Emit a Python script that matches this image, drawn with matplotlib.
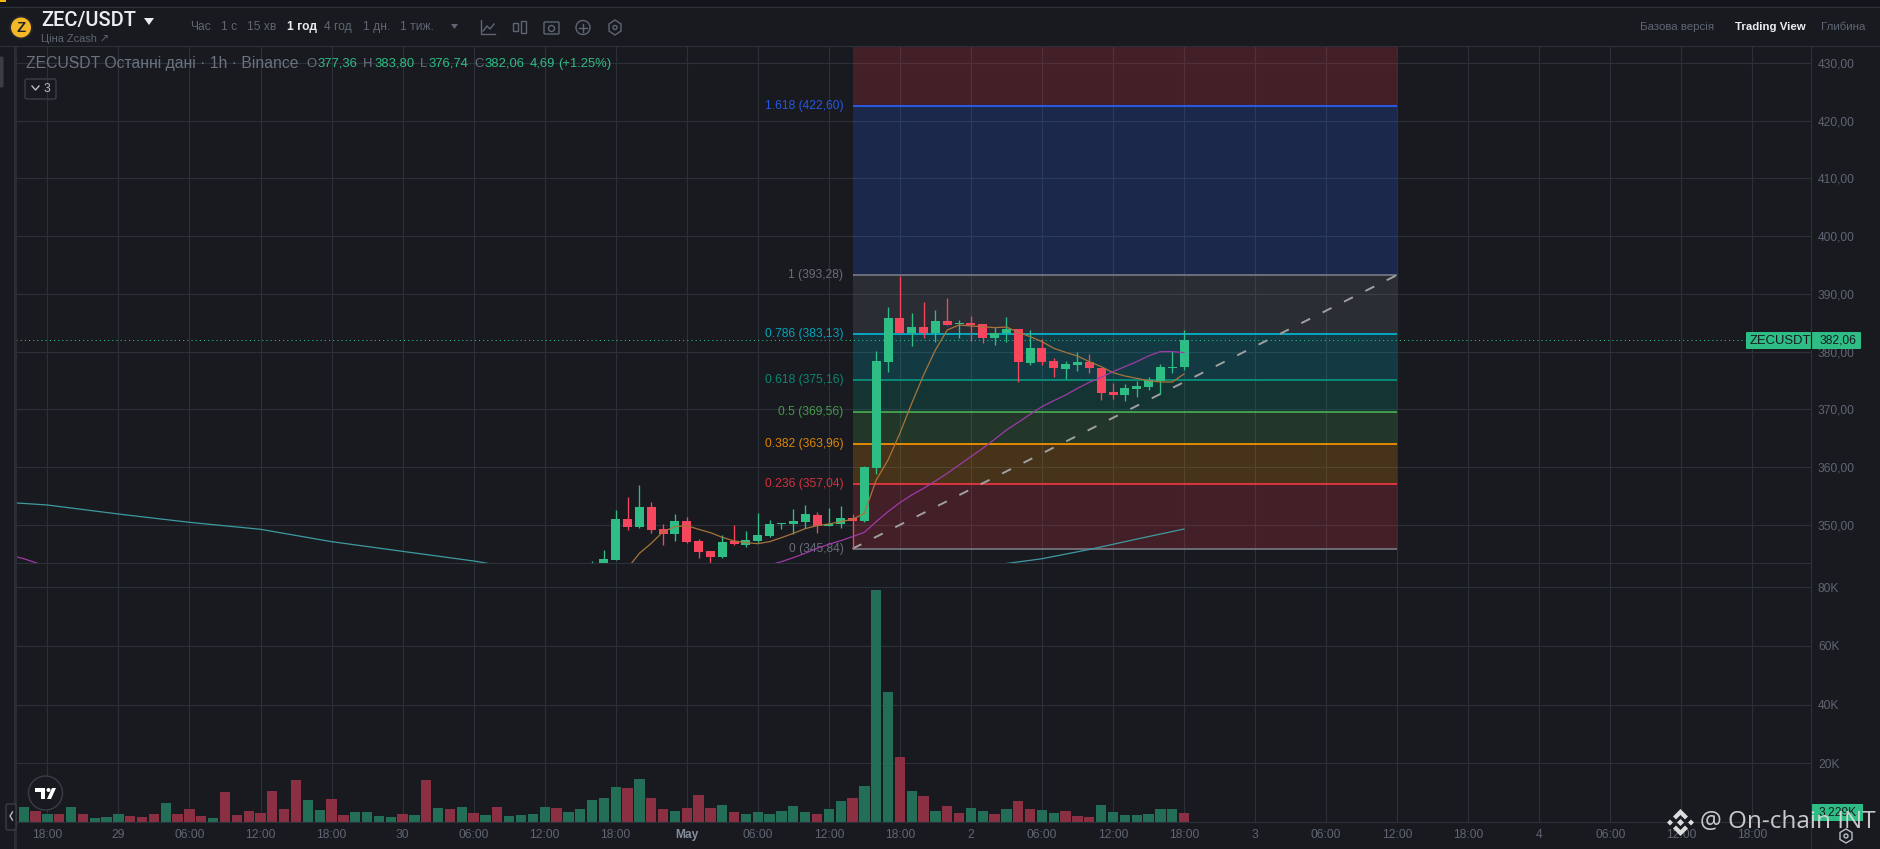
import matplotlib
matplotlib.use('Agg')
import matplotlib.pyplot as plt
from matplotlib.patches import Circle, FancyBboxPatch, Polygon, Rectangle

plt.rcParams['font.family'] = ['Liberation Sans', 'DejaVu Sans']

W, H = 1881, 849

# hours counted from 28 Apr 18:00
candle_start = 46
opens = [343.2, 343.0, 343.9, 350.99, 349.66, 353.07, 349.25, 348.45, 350.64, 347.18, 345.44, 344.46, 347.18,
         346.54, 347.23, 348.10, 350.12, 350.12, 350.47, 351.68, 349.83, 350.12, 351.16, 350.64, 359.88, 378.20,
         385.82, 383.22, 384.26, 383.22, 385.30, 384.78, 384.96, 384.78, 382.36, 383.22, 383.92, 378.02, 380.62,
         378.37, 376.98, 377.68, 378.20, 377.16, 373.00, 372.48, 373.52, 373.87, 374.90, 377.21, 377.36]
highs = [343.7, 345.6, 352.55, 354.74, 356.88, 353.93, 350.12, 351.85, 351.33, 347.52, 345.44, 348.22, 349.95,
         348.91, 352.03, 350.81, 350.35, 352.72, 353.41, 352.20, 352.89, 353.24, 351.85, 360.17, 380.11, 387.73,
         393.10, 386.69, 388.60, 387.21, 389.29, 385.48, 386.17, 384.78, 384.26, 386.00, 383.92, 383.74, 382.18,
         378.89, 378.37, 379.93, 379.58, 377.16, 374.56, 374.38, 374.90, 375.60, 377.85, 380.11, 383.80]
lows = [343.0, 342.6, 343.9, 349.08, 349.49, 348.62, 346.54, 347.23, 346.89, 344.29, 343.42, 344.29, 346.54,
        346.19, 346.77, 347.93, 349.31, 348.45, 349.49, 348.62, 349.77, 349.49, 345.85, 350.47, 358.84, 376.46,
        383.17, 380.97, 382.36, 381.66, 384.61, 382.36, 381.84, 381.49, 381.14, 381.66, 374.73, 377.68, 377.68,
        375.60, 375.25, 376.64, 376.29, 371.61, 371.78, 371.44, 372.13, 373.34, 372.65, 376.29, 376.74]
closes = [343.3, 344.05, 350.99, 349.66, 353.07, 349.14, 348.45, 350.64, 347.06, 345.33, 344.46, 347.00, 346.71,
          347.35, 348.22, 350.12, 350.30, 350.64, 351.85, 349.83, 350.12, 351.16, 350.70, 360.06, 378.37, 385.82,
          383.22, 384.26, 383.22, 385.30, 384.61, 384.96, 384.61, 382.36, 383.22, 383.92, 378.20, 380.62, 378.20,
          377.16, 377.85, 378.20, 377.16, 372.82, 372.48, 373.69, 374.04, 375.08, 377.33, 377.33, 382.06]

vol_start = -2
volumes = [5.11, 3.75, 2.72, 2.72, 5.11, 2.72, 1.36, 1.70, 2.72, 2.04, 1.70, 2.72, 6.47, 2.72, 4.43, 2.04, 1.36,
           10.2, 2.38, 3.75, 3.06, 10.56, 4.43, 14.3, 7.49, 4.09, 7.83, 2.38, 3.41, 3.41, 2.04, 1.70, 2.72, 2.38,
           14.3, 4.77, 4.43, 5.11, 3.06, 2.38, 5.11, 2.04, 2.38, 2.72, 5.11, 4.77, 3.41, 4.43, 7.49, 8.17, 11.92,
           11.58, 14.64, 8.17, 4.43, 3.75, 4.77, 9.19, 4.77, 5.79, 3.41, 2.72, 3.41, 2.72, 3.75, 5.45, 3.41, 2.72,
           4.43, 7.15, 8.17, 12.26, 79, 44.1, 22.13, 10.56, 8.85, 3.75, 5.45, 3.06, 4.77, 3.75, 2.72, 4.43, 7.15,
           4.43, 4.09, 3.06, 3.75, 2.04, 1.70, 5.79, 3.41, 2.38, 2.38, 2.72, 4.43, 4.43, 3.23]
vol_dirs = 'GRGRGRGGGRRRGRRRGRRRRRRRGGRRGGGGRGRGRGRGRGGGGRGGGGGRGRRGRRRGRGGGGGGRGGRGGGRGRGRRGGRGRRGGRRRGGGGGG'

orange_start = 49
ma_orange = [342.44, 345.04, 346.77, 348.79, 349.66, 349.83, 349.2, 348.62, 347.81, 347.18, 346.89, 346.71, 347.06,
             347.75, 348.5, 349.31, 349.83, 350.12, 350.52, 350.93, 351.97, 357.75, 361.21, 365.83, 371.03, 375.94,
             380.28, 383.74, 384.61, 384.44, 384.32, 384.15, 384.26, 383.34, 382.59, 381.72, 380.57, 379.87, 379.23,
             378.25, 377.39, 376.35, 375.77, 375.37, 374.96, 374.73, 374.73, 376.12]
purple_start = 61
ma_purple = [343.02, 343.59, 344.29, 345.04, 345.90, 346.60, 347.23, 347.93, 348.68, 350.53, 352.26, 353.82, 355.15,
             356.30, 357.57, 358.90, 360.35, 361.79, 363.24, 364.80, 366.41, 367.74, 369.13, 370.46, 371.50, 372.48,
             373.63, 374.67, 375.54, 376.52, 377.39, 378.25, 379.24, 379.99, 379.99, 379.82]
purple_left_x = [-3, -2, -1, 0]
purple_left = [344.63, 344.11, 343.42, 342.73]
teal_left_x = [-3, 0, 6, 12, 18, 24, 30, 36, 38]
teal_left = [353.82, 353.41, 351.85, 350.41, 349.2, 347.06, 345.38, 343.71, 343.02]
teal_right_x = [80, 84, 88, 92, 96]
teal_right = [343.0, 344.1, 345.7, 347.5, 349.25]

fib_labels = ['0', '0.236', '0.382', '0.5', '0.618', '0.786', '1', '1.618']
fib_prices = [345.84, 357.04, 363.96, 369.56, 375.16, 383.13, 393.28, 422.60]
fib_colors = ['#787b86', '#f23645', '#ff9800', '#4caf50', '#089981', '#00bcd4', '#787b86', '#2962ff']
fib_from, fib_to = 68, 114

time_pos = list(range(0, 145, 6))
time_labels = ['18:00', '29', '06:00', '12:00', '18:00', '30', '06:00', '12:00', '18:00', 'May', '06:00', '12:00',
               '18:00', '2', '06:00', '12:00', '18:00', '3', '06:00', '12:00', '18:00', '4', '06:00', '12:00', '18:00']
price_ticks = [350, 360, 370, 380, 390, 400, 410, 420, 430]
vol_ticks = [20, 40, 60, 80]
last_price = 382.06

BG = '#181a20'
GRID = '#2b3139'
DIM = '#5e6673'
UP = '#2ebd85'
DOWN = '#f6465d'
VOL_UP = '#236e56'
VOL_DOWN = '#8b3043'


def pane(top, bottom):
    left, right = 16, 1811
    return [left / W, 1 - bottom / H, (right - left) / W, (bottom - top) / H]


def px(size):
    return size * 0.72


fig = plt.figure(figsize=(W / 100, H / 100), dpi=100, facecolor=BG)
ax = fig.add_axes(pane(46, 563), facecolor=BG)
ax_gap = fig.add_axes(pane(563, 587), facecolor=BG, sharex=ax)
ax_vol = fig.add_axes(pane(587, 822), facecolor=BG, sharex=ax)

for a in (ax, ax_gap, ax_vol):
    a.set_axisbelow(True)
    a.set_xticks(time_pos)
    a.grid(True, color=GRID, lw=0.8)
    for s in a.spines.values():
        s.set_color(GRID)
        s.set_linewidth(0.8)
    a.spines['left'].set_visible(False)
ax.spines['top'].set_visible(False)

ax.set_xlim(-2.65, 148.95)
ax.set_ylim(343.36, 432.96)
ax_vol.set_ylim(0, 80)
ax_gap.set_yticks([])
ax_gap.tick_params(axis='x', length=0, labelbottom=False)
ax.tick_params(axis='x', length=0, labelbottom=False)

ax.yaxis.tick_right()
ax.set_yticks(price_ticks)
ax.set_yticklabels([f'{p:.2f}'.replace('.', ',') for p in price_ticks], va='center_baseline')
ax.tick_params(axis='y', length=0, pad=5, labelsize=px(12), labelcolor=DIM)

ax_vol.yaxis.tick_right()
ax_vol.set_yticks(vol_ticks)
ax_vol.set_yticklabels([f'{v}K' for v in vol_ticks], va='center_baseline')
ax_vol.tick_params(axis='y', length=0, pad=5, labelsize=px(12), labelcolor=DIM)
ax_vol.set_xticks(time_pos)
ax_vol.set_xticklabels(time_labels)
ax_vol.tick_params(axis='x', length=0, pad=5, labelsize=px(12), labelcolor=DIM)
for lab in ax_vol.get_xticklabels():
    if lab.get_text() == 'May':
        lab.set_fontweight('bold')
        lab.set_color('#848e9c')

# fib bands, each one takes the colour of its upper level
for i in range(len(fib_prices)):
    lo = fib_prices[i]
    if i == len(fib_prices) - 1:
        hi = ax.get_ylim()[1]
        col = '#f23645'
    else:
        hi = fib_prices[i + 1]
        col = fib_colors[i + 1]
    ax.fill_between([fib_from, fib_to], lo, hi, color=col, alpha=0.2, lw=0, zorder=1)
for name, p, col in zip(fib_labels, fib_prices, fib_colors):
    ax.plot([fib_from, fib_to], [p, p], color=col, lw=1.2, zorder=2, solid_capstyle='butt')
    ax.annotate(f"{name} ({p:.2f})".replace(f'{p:.2f}', f'{p:.2f}'.replace('.', ',')), (fib_from, p),
                xytext=(-6.5, 0), textcoords='offset points', ha='right', va='center',
                color=col, fontsize=px(12), alpha=0.85, zorder=2)

ax.plot([fib_from, fib_to], [fib_prices[0], fib_prices[6]], color='#a0a0a0', lw=1.4, dashes=(5.1, 7.2), zorder=2)

ax.plot(range(orange_start, orange_start + len(ma_orange)), ma_orange, color='#a8743a', lw=0.9, zorder=5)
ax.plot(range(purple_start, purple_start + len(ma_purple)), ma_purple, color='#a03aa8', lw=0.9, zorder=5)
ax.plot(purple_left_x, purple_left, color='#a03aa8', lw=0.9, zorder=5)
ax.plot(teal_left_x, teal_left, color='#3f9aa0', lw=0.9, zorder=5)
ax.plot(teal_right_x, teal_right, color='#3f9aa0', lw=0.9, zorder=5)

# candles
for n in range(len(opens)):
    x = candle_start + n
    col = UP if closes[n] >= opens[n] else DOWN
    ax.vlines(x, lows[n], highs[n], color=col, lw=0.95, zorder=3)
    ax.bar(x, abs(closes[n] - opens[n]), bottom=min(opens[n], closes[n]), width=0.76, color=col, lw=0, zorder=4)

ax.axhline(last_price, color=UP, lw=0.75, dashes=(1, 3), zorder=3)

# volume bars
vol_x = [vol_start + n for n in range(len(volumes))]
vol_cols = [VOL_UP if d == 'G' else VOL_DOWN for d in vol_dirs]
ax_vol.bar(vol_x, volumes, width=0.87, color=vol_cols, lw=0, zorder=2)

# page furniture, in screen pixels
ui = fig.add_axes([0, 0, 1, 1], facecolor='none', zorder=10)
ui.set_xlim(0, W)
ui.set_ylim(H, 0)
ui.axis('off')


def label(x, y, s, color=DIM, size=12, ha='left', **kw):
    ui.text(x, y, s, color=color, fontsize=px(size), ha=ha, va='center', **kw)


ui.add_patch(Rectangle((0, 6), W, 40, facecolor=BG, lw=0))
ui.add_patch(Rectangle((0, 0), W, 6, facecolor='#14161b', lw=0))
ui.add_patch(Rectangle((0, 0), 6, 2, facecolor='#f0b90b', lw=0))
ui.plot([0, W], [6.5, 6.5], color=GRID, lw=0.8)
ui.plot([0, W], [46, 46], color=GRID, lw=0.8)
ui.add_patch(Rectangle((13.5, 46), 3, H - 46, facecolor='#2a2d33', lw=0))
ui.add_patch(Rectangle((0, 46), 13.5, H - 46, facecolor=BG, lw=0))
ui.add_patch(FancyBboxPatch((0, 58), 2, 28, boxstyle='round,pad=1.5', facecolor='#3a3e45', lw=0))
ui.plot([1811, 1811], [46, H], color=GRID, lw=0.8)

# coin
ui.add_patch(Circle((21, 27.5), 12, facecolor='#23252b', lw=0))
ui.add_patch(Circle((21, 27.5), 10, facecolor='#f4b728', lw=0))
ui.text(21, 28, 'Z', color='#23252b', fontsize=px(15), ha='center', va='center', fontweight='bold')
label(41, 20, 'ZEC/USDT', color='#eaecef', size=20, family=['Roboto', 'DejaVu Sans'], fontweight='medium')
ui.add_patch(Polygon([[144, 18], [154, 18], [149, 25]], facecolor='#eaecef', lw=0))
label(41, 39, 'Ціна Zcash ↗', size=11)

for x, s in [(190, 'Час'), (221, '1 с'), (247, '15 хв'), (324, '4 год'), (363, '1 дн.'), (400, '1 тиж.')]:
    label(x, 27, s, size=12)
label(287, 27, '1 год', color='#eaecef', size=12, fontweight='bold')
ui.add_patch(Polygon([[451, 24], [458, 24], [454.5, 29]], facecolor=DIM, lw=0))

# toolbar icons
ui.plot([481, 481, 495], [20, 34, 34], color=DIM, lw=1)
ui.plot([483, 487, 490, 494], [31, 26, 29, 24], color=DIM, lw=1)
ui.add_patch(Rectangle((513, 23), 5, 8, fill=False, edgecolor=DIM, lw=1))
ui.add_patch(Rectangle((521, 21), 5, 12, fill=False, edgecolor=DIM, lw=1))
ui.add_patch(FancyBboxPatch((545, 23), 13, 10, boxstyle='round,pad=1', fill=False, edgecolor=DIM, lw=1))
ui.add_patch(Circle((551.5, 28.5), 3, fill=False, edgecolor=DIM, lw=1))
ui.add_patch(Circle((583, 27.5), 7, fill=False, edgecolor=DIM, lw=1))
ui.plot([579, 587], [27.5, 27.5], color=DIM, lw=1)
ui.plot([583, 583], [23.5, 31.5], color=DIM, lw=1)
ui.add_patch(Polygon([[615, 20], [621, 24], [621, 31], [615, 35], [609, 31], [609, 24]], fill=False, edgecolor=DIM, lw=1))
ui.add_patch(Circle((615, 27.5), 2, fill=False, edgecolor=DIM, lw=1))

label(1640, 27, 'Базова версія', size=11.5)
label(1735, 27, 'Trading View', color='#eaecef', size=11.5, fontweight='bold')
label(1821, 27, 'Глибина', size=11.5)

# legend row
label(26, 63.5, 'ZECUSDT Останні дані · 1h · Binance', color='#6a7280', size=15.7)
for x, s in [(306, 'O'), (363, 'H'), (420, 'L'), (474, 'C')]:
    label(x, 63.5, s, color='#6a7280', size=13)
for x, s in [(317, '377,36'), (374, '383,80'), (428, '376,74'), (484, '382,06'), (530, '4,69'), (558, '(+1.25%)')]:
    label(x, 63.5, s, color=UP, size=13)
ui.add_patch(FancyBboxPatch((27, 81), 27, 16, boxstyle='round,pad=2', fill=False, edgecolor='#3a3e45', lw=1))
ui.plot([32, 35.5, 39], [86, 90, 86], color='#b7bdc6', lw=1)
label(44, 88.5, '3', color='#b7bdc6', size=12)

# last price tags
ui.add_patch(FancyBboxPatch((1747, 333), 113, 15, boxstyle='round,pad=1', facecolor=UP, lw=0))
ui.plot([1811, 1811], [332, 349], color=BG, lw=0.8)
label(1750, 340.5, 'ZECUSDT', color=BG, size=13)
label(1819, 340.5, '382,06', color=BG, size=12)
ui.add_patch(Rectangle((1812, 804), 51, 17, facecolor=UP, lw=0))
label(1837.5, 812.5, '3,229K', color=BG, size=12, ha='center')

# tradingview badge and the collapse handle
ui.add_patch(Circle((45.5, 793), 17, facecolor=BG, edgecolor='#3a3e45', lw=1))
ui.add_patch(Polygon([[35, 788], [45, 788], [45, 799], [41, 799], [41, 792], [35, 792]], facecolor='white', lw=0))
ui.add_patch(Circle((48.5, 790), 2, facecolor='white', lw=0))
ui.add_patch(Polygon([[52, 788], [56, 788], [51, 799], [47, 799]], facecolor='white', lw=0))
ui.add_patch(FancyBboxPatch((8, 806), 6, 22, boxstyle='round,pad=2', facecolor=BG, edgecolor='#3a3e45', lw=1))
ui.plot([12.5, 10, 12.5], [812, 816, 820], color='#b7bdc6', lw=1)

# gear under the volume scale
ui.add_patch(Polygon([[1846, 829], [1852, 832.5], [1852, 839.5], [1846, 843], [1840, 839.5], [1840, 832.5]],
                     fill=False, edgecolor='#b7bdc6', lw=1))
ui.add_patch(Circle((1846, 836), 2, fill=False, edgecolor='#b7bdc6', lw=1))

# watermark
mark = '#dcdcdc'
ui.add_patch(Polygon([[1680.5, 809], [1688, 816.5], [1685, 819.5], [1680.5, 815], [1676, 819.5], [1673, 816.5]],
                     facecolor=mark, lw=0))
ui.add_patch(Polygon([[1680.5, 836], [1688, 828.5], [1685, 825.5], [1680.5, 830], [1676, 825.5], [1673, 828.5]],
                     facecolor=mark, lw=0))
ui.add_patch(Polygon([[1667, 822.5], [1670, 819.5], [1673, 822.5], [1670, 825.5]], facecolor=mark, lw=0))
ui.add_patch(Polygon([[1688, 822.5], [1691, 819.5], [1694, 822.5], [1691, 825.5]], facecolor=mark, lw=0))
ui.add_patch(Polygon([[1677, 822.5], [1680.5, 819], [1684, 822.5], [1680.5, 826]], facecolor=mark, lw=0))
ui.text(1700, 822, '@ On-chain INT', color=mark, alpha=0.9, fontsize=px(24.3), ha='left', va='center',
        family=['Open Sans', 'DejaVu Sans'])

fig.savefig('out.png', dpi=100, facecolor=BG)
